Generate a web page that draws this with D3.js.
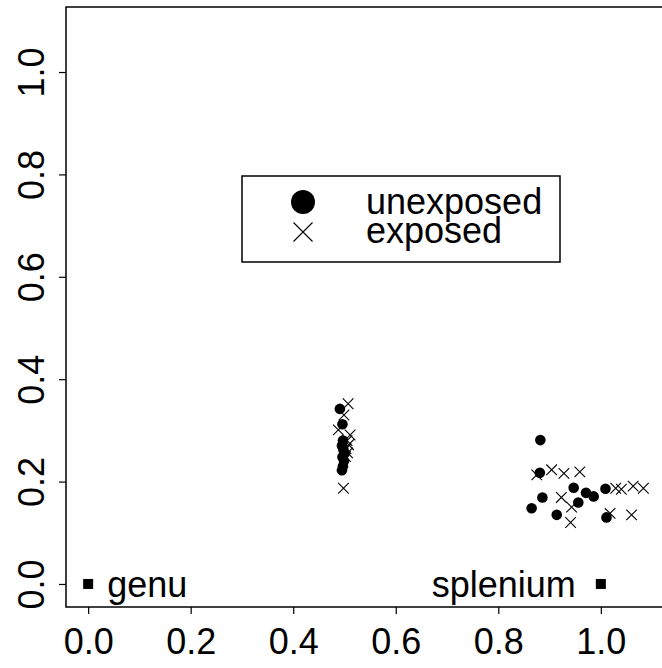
<!DOCTYPE html>
<html>
<head>
<meta charset="utf-8">
<script src="https://cdn.jsdelivr.net/npm/d3@7"></script>
<style>
  body { margin: 0; background: #fff; }
  svg text { font-family: "Liberation Sans", Arial, sans-serif; }
</style>
</head>
<body>
<div id="container"></div>
<script>
// unexposed (filled circles)
var unexposedX = [0.491, 0.496, 0.497, 0.495, 0.498, 0.500, 0.496, 0.499, 0.497, 0.495,
                  0.882, 0.881, 0.886, 0.865, 0.914, 0.947, 0.956, 0.971, 0.986, 1.009, 1.011];
var unexposedY = [0.342, 0.312, 0.280, 0.270, 0.262, 0.255, 0.248, 0.240, 0.230, 0.222,
                  0.281, 0.217, 0.169, 0.148, 0.135, 0.188, 0.159, 0.178, 0.171, 0.186, 0.130];

// exposed (crosses)
var exposedX = [0.507, 0.499, 0.488, 0.511, 0.505, 0.508, 0.503, 0.506, 0.502, 0.498,
                0.875, 0.904, 0.928, 0.959, 0.923, 0.943, 0.941, 1.018, 1.060, 1.029, 1.040, 1.063, 1.083];
var exposedY = [0.352, 0.330, 0.301, 0.291, 0.280, 0.272, 0.264, 0.256, 0.249, 0.187,
                0.213, 0.223, 0.216, 0.219, 0.169, 0.150, 0.120, 0.138, 0.135, 0.187, 0.185, 0.191, 0.187];

// anchor points
var anchorNames = ["genu", "splenium"];
var anchorX = [0, 1];
var anchorY = [0, 0];

var ticks = [0, 0.2, 0.4, 0.6, 0.8, 1.0];
var legendLabels = ["unexposed", "exposed"];

var width = 662, height = 668;

var svg = d3.select("#container").append("svg")
  .attr("width", width)
  .attr("height", height);

var x = d3.scaleLinear().domain([-0.0432, 1.1232]).range([66, 664]);
var y = d3.scaleLinear().domain([-0.045, 1.127]).range([607, 7]);

// plot box
svg.append("rect")
  .attr("x", x.range()[0]).attr("y", y.range()[1])
  .attr("width", x.range()[1] - x.range()[0])
  .attr("height", y.range()[0] - y.range()[1])
  .attr("fill", "none").attr("stroke", "#000").attr("stroke-width", 1.5);

// axes
var xAxis = d3.axisBottom(x).tickValues(ticks).tickSize(7).tickFormat(d3.format(".1f"));
var gx = svg.append("g").attr("transform", "translate(0," + y.range()[0] + ")").call(xAxis);
gx.select(".domain").remove();
gx.selectAll("line").attr("stroke-width", 1.2);
gx.selectAll("text").attr("font-size", 36).attr("dy", null).attr("y", 47).attr("fill", "#000");

var yAxis = d3.axisLeft(y).tickValues(ticks).tickSize(7).tickFormat(d3.format(".1f"));
var gy = svg.append("g").attr("transform", "translate(" + x.range()[0] + ",0)").call(yAxis);
gy.select(".domain").remove();
gy.selectAll("line").attr("stroke-width", 1.2);
gy.selectAll("text")
  .attr("font-size", 36).attr("fill", "#000")
  .attr("x", null).attr("dy", null)
  .attr("text-anchor", "middle")
  .attr("transform", "translate(-22,0) rotate(-90)");

function cross(g, cx, cy, h, sw) {
  g.append("path")
    .attr("d", "M" + (cx - h) + "," + (cy - h) + "L" + (cx + h) + "," + (cy + h) +
               "M" + (cx - h) + "," + (cy + h) + "L" + (cx + h) + "," + (cy - h))
    .attr("stroke", "#000").attr("stroke-width", sw).attr("fill", "none");
}

var pts = svg.append("g");
unexposedX.forEach(function (v, i) {
  pts.append("circle").attr("cx", x(v)).attr("cy", y(unexposedY[i])).attr("r", 5.3).attr("fill", "#000");
});
exposedX.forEach(function (v, i) {
  cross(pts, x(v), y(exposedY[i]), 5.3, 1.1);
});

// genu / splenium markers and labels
anchorX.forEach(function (v, i) {
  pts.append("rect").attr("x", x(v) - 5).attr("y", y(anchorY[i]) - 5)
    .attr("width", 10).attr("height", 10).attr("fill", "#000");
});
svg.append("text").attr("x", x(anchorX[0]) + 19).attr("y", y(anchorY[0]) + 13)
  .attr("font-size", 36).text(anchorNames[0]);
svg.append("text").attr("x", x(anchorX[1]) - 25).attr("y", y(anchorY[1]) + 13)
  .attr("font-size", 36).attr("text-anchor", "end").text(anchorNames[1]);

// legend
var lg = svg.append("g");
lg.append("rect").attr("x", 242).attr("y", 176).attr("width", 318).attr("height", 86)
  .attr("fill", "#fff").attr("stroke", "#000").attr("stroke-width", 1.5);
lg.append("circle").attr("cx", 303).attr("cy", 202).attr("r", 12).attr("fill", "#000");
cross(lg, 303, 232, 9.5, 1.1);
legendLabels.forEach(function (t, i) {
  lg.append("text").attr("x", 366).attr("y", 214 + i * 29).attr("font-size", 36).text(t);
});
</script>
</body>
</html>
